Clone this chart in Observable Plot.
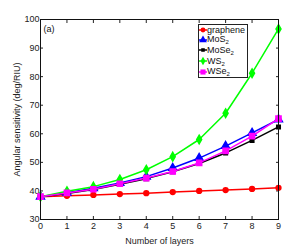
<!DOCTYPE html>
<html><head><meta charset="utf-8">
<script src="https://cdn.jsdelivr.net/npm/d3@7"></script>
<script src="https://cdn.jsdelivr.net/npm/@observablehq/plot@0.6"></script>
<style>
body{margin:0;background:#fff;font-family:"Liberation Sans",Arial,sans-serif;}
#wrap{position:relative;width:308px;height:247px;}
#legend{position:absolute;left:198px;top:24px;width:50px;height:54px;border:1px solid #222;background:#fff;box-sizing:border-box;font-size:9px;line-height:1;color:#111;}
#legend .row{position:absolute;left:0px;height:10px;display:flex;align-items:center;white-space:nowrap;}
#legend svg{margin-right:0px;flex:none;}
#legend sub{font-size:6px;position:relative;top:2px;vertical-align:baseline;line-height:0;}
</style></head>
<body><div id="wrap"></div>
<script>
const layers = [0,1,2,3,4,5,6,7,8,9];
const seriesNames = ["graphene","MoS2","MoSe2","WS2","WSe2"];
const seriesLabels = ["graphene","MoS<sub>2</sub>","MoSe<sub>2</sub>","WS<sub>2</sub>","WSe<sub>2</sub>"];
const graphene = [38.0,38.3,38.6,38.9,39.2,39.6,40.0,40.3,40.7,41.1];
const mos2 = [38.0,39.4,40.9,42.8,45.0,48.0,51.5,55.7,60.3,65.0];
const mose2 = [38.0,39.1,40.5,42.3,44.3,46.7,49.6,53.3,57.7,62.4];
const ws2 = [38.0,39.9,41.5,44.0,47.4,52.0,58.0,67.2,81.2,96.7];
const wse2 = [38.0,39.3,40.6,42.5,44.5,46.8,49.8,54.0,59.2,65.3];
const xTicks = [0,1,2,3,4,5,6,7,8,9];
const yTicks = [30,40,50,60,70,80,90,100];

const colors = ["#ff0000","#0000ff","#000000","#00ff00","#ff00ff"];
const symbols = ["circle","triangle","square","diamond","square"];
const sizes = [2.4,2.9,2.0,2.6,2.9];
const values = [graphene,mos2,mose2,ws2,wse2];

const data = [];
seriesNames.forEach((s,i)=>layers.forEach((l,j)=>data.push({series:s,layers:l,value:values[i][j]})));

const marks = [];
seriesNames.forEach((s,i)=>{
  const d = data.filter(r=>r.series===s);
  marks.push(Plot.line(d,{x:"layers",y:"value",stroke:colors[i],strokeWidth:1.5}));
  marks.push(Plot.dot(d,{x:"layers",y:"value",fill:colors[i],stroke:colors[i],symbol:()=>symbols[i],r:sizes[i]}));
});

const plot = Plot.plot({
  width:308,height:247,
  marginLeft:40,marginRight:30,marginTop:19,marginBottom:28,
  style:{fontFamily:"'Liberation Sans',Arial,sans-serif",fontSize:"9px",color:"#222",background:"#fff"},
  x:{domain:[0,9]},
  y:{domain:[30,100]},
  symbol:{type:"identity"},
  marks:[
    Plot.axisX({ticks:xTicks,tickSize:-3,tickPadding:6,label:"Number of layers",labelAnchor:"center",labelArrow:"none",labelOffset:24,tickFormat:d=>String(d)}),
    Plot.axisX({anchor:"top",ticks:xTicks,tickSize:-3,tickFormat:()=>"",label:null}),
    Plot.axisY({ticks:yTicks,tickSize:-3,tickPadding:4,label:"Angular sensitivity (deg/RIU)",labelAnchor:"center",labelArrow:"none",labelOffset:27,tickFormat:d=>String(d)}),
    Plot.axisY({anchor:"right",ticks:yTicks,tickSize:-3,tickFormat:()=>"",label:null}),
    ...marks,
    Plot.frame({stroke:"#111",strokeWidth:1}),
    Plot.text(["(a)"],{frameAnchor:"top-left",dx:3,dy:6,fontSize:9,fill:"#111"})
  ]
});
const wrap = document.getElementById("wrap");
wrap.appendChild(plot);

const legend = document.createElement("div");
legend.id="legend";
const centers=[5,14.5,25,36,46.5];
const shapes={circle:d3.symbolCircle,triangle:d3.symbolTriangle,square:d3.symbolSquare,diamond:d3.symbolDiamond};
seriesNames.forEach((s,i)=>{
  const row=document.createElement("div");
  row.className="row";
  row.style.top=(centers[i]-5)+"px";
  const area = Math.PI*sizes[i]*sizes[i];
  const path = d3.symbol(shapes[symbols[i]], area)();
  row.innerHTML = `<svg width="8" height="10"><line x1="0" x2="8" y1="5" y2="5" stroke="${colors[i]}" stroke-width="1.5"/><path transform="translate(4,5)" d="${path}" fill="${colors[i]}"/></svg><span>${seriesLabels[i]}</span>`;
  legend.appendChild(row);
});
wrap.appendChild(legend);
</script>
</body></html>
